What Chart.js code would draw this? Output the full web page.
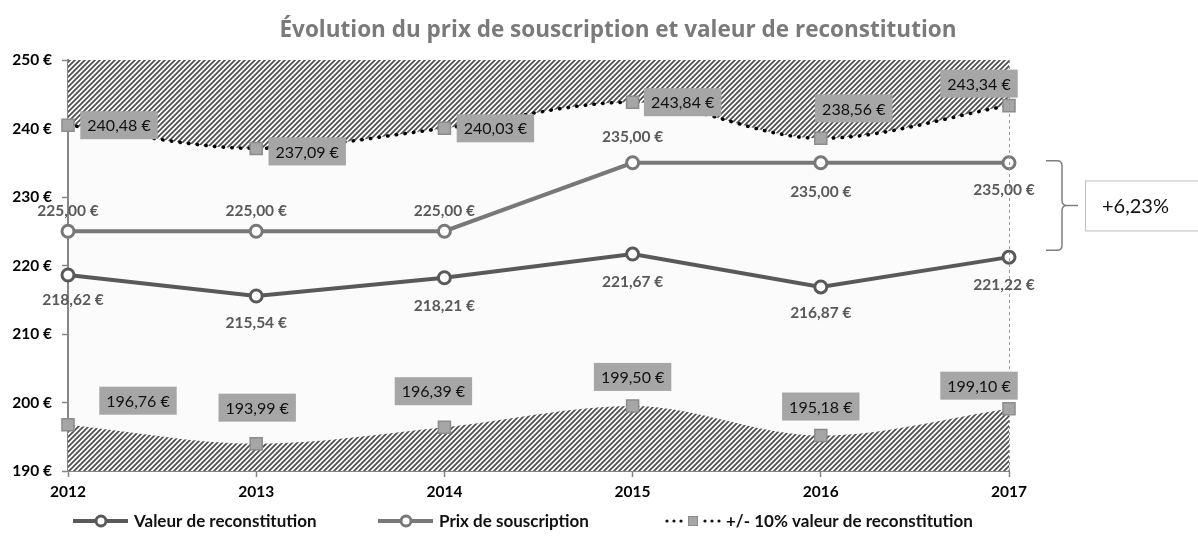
<!DOCTYPE html>
<html lang="fr">
<head>
<meta charset="utf-8">
<script src="https://cdn.jsdelivr.net/npm/chart.js@4/dist/chart.umd.min.js"></script>
<style>
  html, body { margin: 0; padding: 0; background: #fff; }
  #wrap { width: 1198px; height: 539px; position: relative; }
</style>
</head>
<body>
<div id="wrap"><canvas id="prixChart" width="1198" height="539"></canvas></div>
<script>
// Données
const annees = ['2012', '2013', '2014', '2015', '2016', '2017'];
const valeurReconstitution = [218.62, 215.54, 218.21, 221.67, 216.87, 221.22];
const prixSouscription = [225.00, 225.00, 225.00, 235.00, 235.00, 235.00];
const bandeHaute = [240.48, 237.09, 240.03, 243.84, 238.56, 243.34];
const bandeBasse = [196.76, 193.99, 196.39, 199.50, 195.18, 199.10];
const yTicks = [190, 200, 210, 220, 230, 240, 250];

const FONT = "Lato, 'Open Sans', sans-serif";
const fmt = (v) => v.toFixed(2).replace('.', ',') + ' €';

// motif hachuré
function makeHatch() {
  const s = 5;
  const c = document.createElement('canvas');
  c.width = s; c.height = s;
  const g = c.getContext('2d');
  g.fillStyle = '#ffffff';
  g.fillRect(0, 0, s, s);
  g.strokeStyle = '#505050';
  g.lineWidth = 1.8;
  g.lineCap = 'square';
  g.beginPath();
  g.moveTo(-1, s + 1); g.lineTo(s + 1, -1);
  g.moveTo(-1, 1); g.lineTo(1, -1);
  g.moveTo(s - 1, s + 1); g.lineTo(s + 1, s - 1);
  g.stroke();
  return g.createPattern(c, 'repeat');
}
const hatch = makeHatch();

// décalages des étiquettes (px) par point
const offValeur = [[5, 25], [0, 27], [0, 28], [0, 28], [0, 26], [-5, 28]];
const offPrix = [[0, -20], [0, -20], [0, -20], [0, -26], [0, 29], [-5, 27]];
const offHaute = [[51, 0], [51, 3], [51, 0], [50, 0], [33, -30], [-30, -22]];
const offBasse = [[70, -24], [1, -36], [-11, -36], [0, -29], [0, -29], [-30, -23]];

const bgPlugin = {
  id: 'bg',
  beforeDraw(chart) {
    const { ctx, chartArea: a } = chart;
    ctx.save();
    ctx.fillStyle = '#fbfbfb';
    ctx.fillRect(a.left, a.top, a.right - a.left, a.bottom - a.top);
    ctx.restore();
  }
};

const labelsPlugin = {
  id: 'labels',
  afterDatasetsDraw(chart) {
    const { ctx, chartArea: a, scales } = chart;
    ctx.save();
    // ligne pointillée verticale 2017
    const xl = scales.x.getPixelForValue(annees.length - 1);
    ctx.strokeStyle = '#9a9a9a';
    ctx.lineWidth = 1;
    ctx.setLineDash([3, 3]);
    ctx.beginPath();
    ctx.moveTo(xl + 0.5, a.top);
    ctx.lineTo(xl + 0.5, a.bottom);
    ctx.stroke();
    ctx.setLineDash([]);

    ctx.textAlign = 'center';
    ctx.textBaseline = 'middle';
    // étiquettes grises en gras
    ctx.font = 'bold 15.5px ' + FONT;
    ctx.fillStyle = '#595959';
    [[0, offValeur], [1, offPrix]].forEach(([i, offs]) => {
      chart.getDatasetMeta(i).data.forEach((pt, j) => {
        const v = chart.data.datasets[i].data[j];
        ctx.fillText(fmt(v), pt.x + offs[j][0], pt.y + offs[j][1]);
      });
    });
    // étiquettes en boîte
    ctx.font = '16px ' + FONT;
    [[2, offHaute], [3, offBasse]].forEach(([i, offs]) => {
      chart.getDatasetMeta(i).data.forEach((pt, j) => {
        const t = fmt(chart.data.datasets[i].data[j]);
        const w = ctx.measureText(t).width + 14;
        const h = 28;
        const cx = pt.x + offs[j][0], cy = pt.y + offs[j][1];
        ctx.fillStyle = '#a6a6a6';
        ctx.fillRect(cx - w / 2, cy - h / 2, w, h);
        ctx.fillStyle = '#111111';
        ctx.fillText(t, cx, cy + 1);
      });
    });
    ctx.restore();
  },
  afterDraw(chart) {
    const { ctx, scales } = chart;
    const y = scales.y;
    ctx.save();
    // titre
    ctx.font = "bold 22.5px 'Open Sans', sans-serif";
    ctx.fillStyle = '#7a7a7a';
    ctx.textAlign = 'center';
    ctx.textBaseline = 'alphabetic';
    ctx.fillText('Évolution du prix de souscription et valeur de reconstitution', 618, 37);
    ctx.textBaseline = 'middle';

    // accolade
    const n = annees.length - 1;
    const top = y.getPixelForValue(prixSouscription[n]) - 2;
    const bot = y.getPixelForValue(valeurReconstitution[n]) - 7;
    const mid = (top + bot) / 2;
    ctx.strokeStyle = '#7f7f7f';
    ctx.lineWidth = 1.5;
    ctx.beginPath();
    ctx.moveTo(1046, top);
    ctx.lineTo(1057, top);
    ctx.quadraticCurveTo(1062, top, 1062, top + 5);
    ctx.lineTo(1062, mid - 5);
    ctx.quadraticCurveTo(1062, mid, 1067, mid);
    ctx.lineTo(1078, mid);
    ctx.moveTo(1067, mid);
    ctx.quadraticCurveTo(1062, mid, 1062, mid + 5);
    ctx.lineTo(1062, bot - 5);
    ctx.quadraticCurveTo(1062, bot, 1057, bot);
    ctx.lineTo(1046, bot);
    ctx.stroke();

    // boîte pourcentage
    const pct = (prixSouscription[n] / valeurReconstitution[n] - 1) * 100;
    ctx.fillStyle = '#ffffff';
    ctx.fillRect(1085.5, mid - 24.5, 130, 50);
    ctx.strokeStyle = '#bfbfbf';
    ctx.lineWidth = 1;
    ctx.strokeRect(1085.5, mid - 24.5, 130, 50);
    ctx.fillStyle = '#111111';
    ctx.font = '20px ' + FONT;
    ctx.textAlign = 'left';
    ctx.fillText('+' + pct.toFixed(2).replace('.', ',') + '%', 1102, mid + 1);

    // légende
    const ly = 521;
    const ds = chart.data.datasets;
    ctx.font = 'bold 17px ' + FONT;
    ctx.fillStyle = '#111111';
    ctx.textAlign = 'left';
    [[0, 73], [1, 378]].forEach(([i, x0]) => {
      ctx.strokeStyle = ds[i].borderColor;
      ctx.lineWidth = 4;
      ctx.beginPath();
      ctx.moveTo(x0, ly); ctx.lineTo(x0 + 55, ly);
      ctx.stroke();
      ctx.beginPath();
      ctx.arc(x0 + 28, ly, 5, 0, Math.PI * 2);
      ctx.fillStyle = '#ffffff';
      ctx.fill();
      ctx.lineWidth = 3;
      ctx.stroke();
      ctx.fillStyle = '#111111';
      ctx.fillText(ds[i].label, x0 + 61, ly + 1);
    });
    // pointillés + carré
    ctx.fillStyle = '#111111';
    [667, 674, 681, 705, 712, 719].forEach(dx => {
      ctx.beginPath();
      ctx.arc(dx, ly, 1.6, 0, Math.PI * 2);
      ctx.fill();
    });
    ctx.fillStyle = '#a6a6a6';
    ctx.strokeStyle = '#8c8c8c';
    ctx.lineWidth = 1;
    ctx.fillRect(688, ly - 5, 10, 10);
    ctx.strokeRect(688.5, ly - 4.5, 9, 9);
    ctx.fillStyle = '#111111';
    ctx.fillText(ds[2].label, 726, ly + 1);
    ctx.restore();
  }
};

const ctx = document.getElementById('prixChart').getContext('2d');
new Chart(ctx, {
  type: 'line',
  data: {
    labels: annees,
    datasets: [
      {
        label: 'Valeur de reconstitution',
        data: valeurReconstitution,
        borderColor: '#595959',
        borderWidth: 4,
        pointStyle: 'circle',
        pointRadius: 6,
        pointBorderWidth: 3,
        pointBackgroundColor: '#ffffff',
        pointBorderColor: '#595959',
        tension: 0,
        fill: false,
        order: 1
      },
      {
        label: 'Prix de souscription',
        data: prixSouscription,
        borderColor: '#787878',
        borderWidth: 4,
        pointStyle: 'circle',
        pointRadius: 6,
        pointBorderWidth: 3,
        pointBackgroundColor: '#ffffff',
        pointBorderColor: '#787878',
        tension: 0,
        fill: false,
        order: 2
      },
      {
        label: '+/- 10% valeur de reconstitution',
        data: bandeHaute,
        borderColor: '#000000',
        borderWidth: 3.5,
        borderDash: [0.5, 8.2],
        borderCapStyle: 'round',
        backgroundColor: hatch,
        fill: 'end',
        cubicInterpolationMode: 'monotone',
        pointStyle: 'rect',
        pointRadius: 8.5,
        pointBorderWidth: 1.5,
        pointBackgroundColor: '#a6a6a6',
        pointBorderColor: '#8c8c8c',
        order: 3
      },
      {
        label: 'bande basse',
        data: bandeBasse,
        borderWidth: 0,
        borderColor: 'rgba(0,0,0,0)',
        backgroundColor: hatch,
        fill: 'start',
        cubicInterpolationMode: 'monotone',
        pointStyle: 'rect',
        pointRadius: 8.5,
        pointBorderWidth: 1.5,
        pointBackgroundColor: '#a6a6a6',
        pointBorderColor: '#8c8c8c',
        order: 4
      }
    ]
  },
  options: {
    responsive: false,
    animation: false,
    layout: { padding: { left: 0, right: 189, top: 60, bottom: 38 } },
    plugins: {
      legend: { display: false },
      title: { display: false },
      tooltip: { enabled: false }
    },
    scales: {
      x: {
        type: 'category',
        offset: false,
        z: 1,
        afterFit: (s) => { s.height = 30; },
        grid: { drawOnChartArea: false, tickLength: 6, tickColor: '#868686', tickWidth: 1.5 },
        border: { color: '#868686', width: 2 },
        ticks: { color: '#000', padding: 6, maxRotation: 0, font: { family: FONT, size: 15.5, weight: 'bold' } }
      },
      y: {
        min: 190,
        max: 250,
        z: 1,
        afterFit: (s) => { s.width = 68; },
        afterBuildTicks: (s) => { s.ticks = yTicks.map(v => ({ value: v })); },
        grid: { drawOnChartArea: false, tickLength: 6, tickColor: '#868686', tickWidth: 1.5 },
        border: { color: '#868686', width: 2 },
        ticks: {
          color: '#000',
          padding: 10,
          callback: (v) => v + ' €',
          font: { family: FONT, size: 15.5, weight: 'bold' }
        }
      }
    }
  },
  plugins: [bgPlugin, labelsPlugin]
});
</script>
</body>
</html>
